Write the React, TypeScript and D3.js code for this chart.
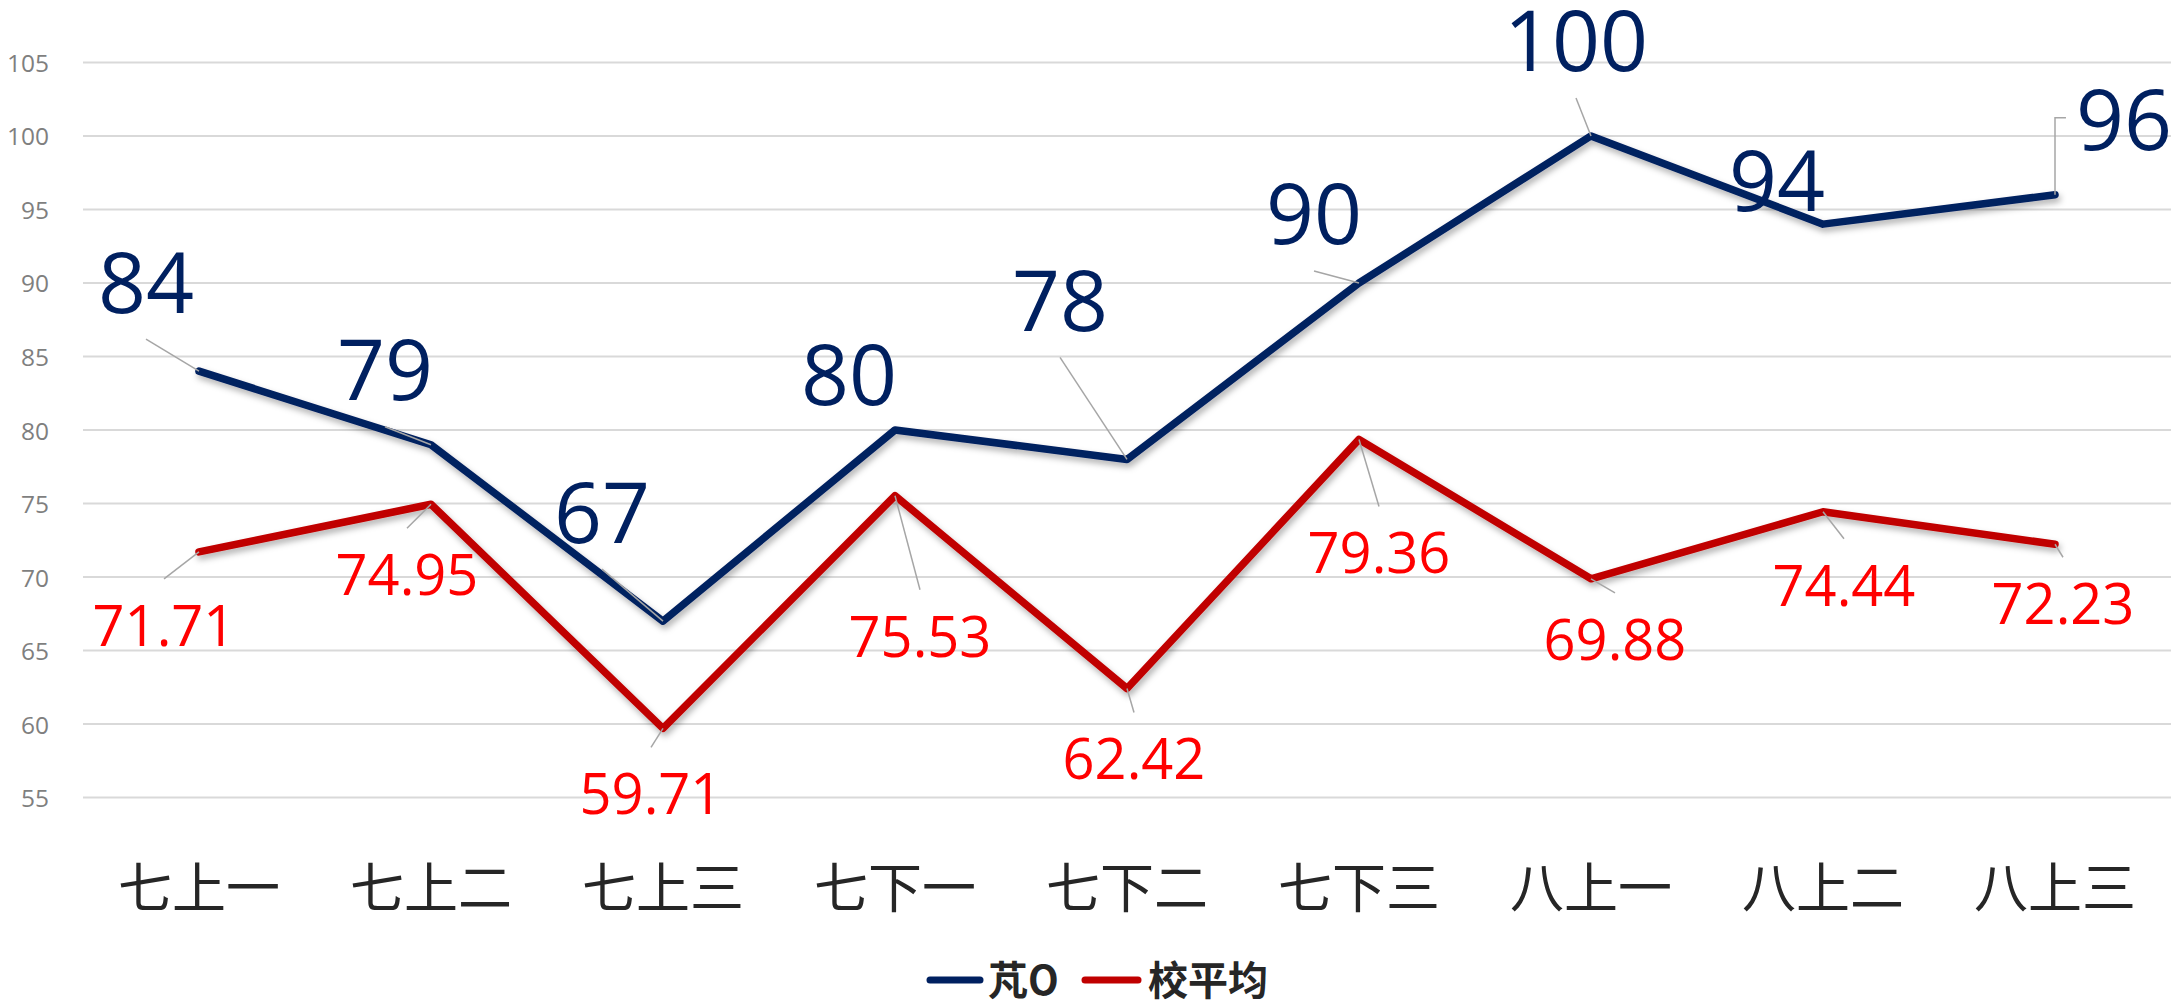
import React from 'react';
import * as d3 from 'd3';

const categories = ['七上一', '七上二', '七上三', '七下一', '七下二', '七下三', '八上一', '八上二', '八上三'];
const classScores = [84, 79, 67, 80, 78, 90, 100, 94, 96];
const schoolAvg = [71.71, 74.95, 59.71, 75.53, 62.42, 79.36, 69.88, 74.44, 72.23];
const yTicks = [55, 60, 65, 70, 75, 80, 85, 90, 95, 100, 105];
const seriesNames = ['芃O', '校平均'];

// label placement (layout, px offsets from the point)
const classLabelOffsets: [number, number][] = [
  [-53, -91], [-46, -77], [-61, -111], [-46, -58], [-67, -161], [-45, -71], [-15, -97], [-46, -46], [69, -77],
];
const avgLabelOffsets: [number, number][] = [
  [-35, 72], [-24, 69], [-12, 64], [25, 139], [7, 69], [20, 112], [24, 59], [21, 72], [8, 58],
];
// leader style per label: 'a' = from label anchor, 'e' = elbow, '' = none
const classLeaders = ['a', 'a', 'a', '', 'a', 'a', 'a', '', 'e'];
const avgLeaders = ['a', 'a', 'a', 'a', 'a', 'a', 'a', 'a', 'a'];

const W = 2175;
const H = 1000;
const BLUE = '#002060';
const RED = '#C00000';
const FONT = '"Open Sans", "Noto Sans", sans-serif';
const CJK = '"Noto Sans CJK SC", "Noto Sans", sans-serif';

function textWidth(s: string, fs: number) {
  let w = 0;
  for (const ch of s) w += ch === '.' ? 0.27 * fs : 0.572 * fs;
  return w;
}

export default function App() {
  const x = d3.scaleBand<string>().domain(categories).range([83, 2171]).padding(0);
  const cx = (c: string) => (x(c) as number) + x.bandwidth() / 2;
  const y = d3.scaleLinear().domain([55, 105]).range([797.6, 62.4]);

  const line = d3
    .line<number>()
    .x((_, i) => cx(categories[i]))
    .y((d) => y(d));

  const renderLabels = (
    values: number[],
    offsets: [number, number][],
    leaders: string[],
    anchorDy: number,
    fs: number,
    color: string,
    fmt: (v: number) => string
  ) =>
    values.map((v, i) => {
      const px = cx(categories[i]);
      const py = y(v);
      const lx = px + offsets[i][0];
      const ly = py + offsets[i][1];
      const s = fmt(v);
      let leaderPath: string | null = null;
      if (leaders[i] === 'a') {
        leaderPath = `M${lx},${ly + anchorDy}L${px},${py}`;
      } else if (leaders[i] === 'e') {
        const edge = lx - textWidth(s, fs) / 2 - 10;
        leaderPath = `M${edge},${ly}L${px},${ly}L${px},${py}`;
      }
      return (
        <g key={i}>
          {leaderPath && <path d={leaderPath} fill="none" stroke="#a6a6a6" strokeWidth={1.5} />}
          <text
            x={lx}
            y={ly}
            textAnchor="middle"
            dominantBaseline="central"
            fontFamily={FONT}
            fontSize={fs}
            fill={color}
          >
            {s}
          </text>
        </g>
      );
    });

  return (
    <svg
      width={W}
      height={H}
      style={{ position: 'absolute', left: 0, top: 0, background: '#fff' }}
      xmlns="http://www.w3.org/2000/svg"
    >
      <defs>
        <filter id="shadow" x="-10%" y="-10%" width="120%" height="130%">
          <feDropShadow dx="2" dy="4" stdDeviation="3" floodColor="#000" floodOpacity="0.3" />
        </filter>
      </defs>
      <rect width={W} height={H} fill="#fff" />
      {/* gridlines and y ticks */}
      {yTicks.map((t) => (
        <g key={t}>
          <line x1={83} x2={2171} y1={y(t)} y2={y(t)} stroke="#d9d9d9" strokeWidth={2} />
          <text
            x={49}
            y={y(t)}
            textAnchor="end"
            dominantBaseline="central"
            fontFamily={FONT}
            fontSize={24.5}
            fill="#7f7f7f"
          >
            {t}
          </text>
        </g>
      ))}
      {/* category labels */}
      {categories.map((c) => (
        <text
          key={c}
          x={cx(c)}
          y={884}
          textAnchor="middle"
          dominantBaseline="central"
          fontFamily={CJK}
          fontSize={54}
          fill="#262626"
        >
          {c}
        </text>
      ))}
      {/* lines */}
      <path
        d={line(schoolAvg) as string}
        fill="none"
        stroke={RED}
        strokeWidth={7.5}
        strokeLinejoin="round"
        strokeLinecap="round"
        filter="url(#shadow)"
      />
      <path
        d={line(classScores) as string}
        fill="none"
        stroke={BLUE}
        strokeWidth={7.5}
        strokeLinejoin="round"
        strokeLinecap="round"
        filter="url(#shadow)"
      />
      {renderLabels(classScores, classLabelOffsets, classLeaders, 59, 84, BLUE, (v) => String(v))}
      {renderLabels(schoolAvg, avgLabelOffsets, avgLeaders, -45, 56, '#FF0000', (v) => v.toFixed(2))}
      {/* legend */}
      <line x1={930} x2={980} y1={980} y2={980} stroke={BLUE} strokeWidth={7} strokeLinecap="round" />
      <text x={988} y={978} dominantBaseline="central" fontFamily={CJK} fontSize={40} fontWeight="bold" fill="#262626">
        {seriesNames[0]}
      </text>
      <line x1={1085} x2={1138} y1={980} y2={980} stroke={RED} strokeWidth={7} strokeLinecap="round" />
      <text x={1148} y={978} dominantBaseline="central" fontFamily={CJK} fontSize={40} fontWeight="bold" fill="#262626">
        {seriesNames[1]}
      </text>
    </svg>
  );
}
